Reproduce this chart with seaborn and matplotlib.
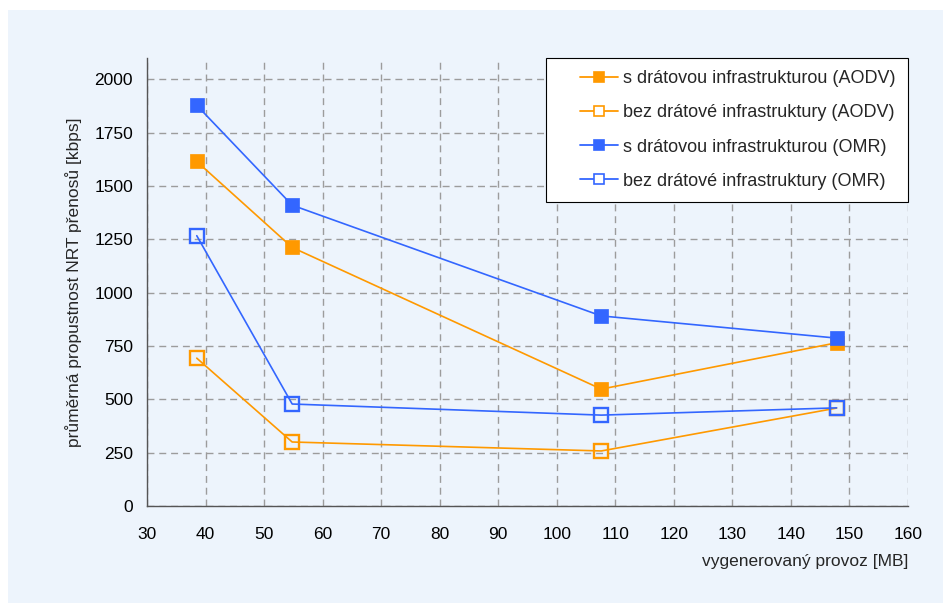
import matplotlib
matplotlib.use("Agg")
import matplotlib.pyplot as plt
import matplotlib.patches as mpatches
from matplotlib.legend_handler import HandlerLine2D
import numpy as np
import pandas as pd
import seaborn as sns

# Generated traffic [MB] at each measurement
traffic = [38.5, 54.8, 107.6, 147.8]

# Average NRT throughput [kbps]
aodv_wired = [1615, 1212, 548, 765]
aodv_nowire = [693, 300, 258, 459]
omr_wired = [1878, 1410, 891, 787]
omr_nowire = [1267, 478, 426, 460]

labels = [
    "s drátovou infrastrukturou (AODV)",
    "bez drátové infrastruktury (AODV)",
    "s drátovou infrastrukturou (OMR)",
    "bez drátové infrastruktury (OMR)",
]
series = [aodv_wired, aodv_nowire, omr_wired, omr_nowire]

xticks = list(range(30, 161, 10))
yticks = list(range(0, 2001, 250))

ORANGE = "#FF9900"
BLUE = "#3366FF"
BG = "#EDF4FC"

colors = [ORANGE, ORANGE, BLUE, BLUE]
filled = [True, False, True, False]


class InsetLineHandler(HandlerLine2D):
    """Legend key whose line starts part-way into the handle box."""

    def __init__(self, inset=0.4, **kw):
        super().__init__(**kw)
        self.inset = inset

    def create_artists(self, legend, orig_handle, xdescent, ydescent,
                       width, height, fontsize, trans):
        shift = width * self.inset
        return super().create_artists(legend, orig_handle, xdescent - shift,
                                      ydescent, width - shift, height,
                                      fontsize, trans)


sns.set_theme(style="white")
plt.rcParams["font.family"] = ["Liberation Sans", "DejaVu Sans"]

fig = plt.figure(figsize=(9.43, 6.03), dpi=100, facecolor="white")
fig.patches.append(mpatches.Rectangle((8 / 943, 0), 1, 1 - 10 / 603,
                                      transform=fig.transFigure,
                                      facecolor=BG, edgecolor="none", zorder=-5))
ax = fig.add_axes([147 / 943, (603 - 506) / 603, (908 - 147) / 943, (506 - 58) / 603])
ax.set_zorder(2)
ax.set_facecolor(BG)

frames = []
for lab, vals in zip(labels, series):
    frames.append(pd.DataFrame({"provoz": traffic, "propustnost": vals, "serie": lab}))
df = pd.concat(frames, ignore_index=True)

# draw so that the filled OMR marker sits on top at the last point
order = [1, 3, 0, 2]
for i in order:
    sub = df[df["serie"] == labels[i]]
    sns.lineplot(
        data=sub, x="provoz", y="propustnost", ax=ax,
        color=colors[i], linewidth=1.2, marker="s",
        markersize=10 if filled[i] else 9.5,
        markerfacecolor=colors[i] if filled[i] else "none",
        markeredgecolor=colors[i], markeredgewidth=0.5 if filled[i] else 1.7,
        label=labels[i], zorder=3 + i, legend=False,
    )

ax.set_xlim(30, 160)
ax.set_ylim(0, 2100)
ax.set_xticks(xticks)
ax.set_yticks(yticks)
ax.tick_params(axis="both", labelsize=12.5, colors="#000000", length=5,
               width=0.8, direction="out")
ax.tick_params(axis="x", pad=10)
ax.tick_params(axis="y", pad=5)
ax.tick_params(axis="both", color="#555555")

ax.grid(True, color="#9c9c9c", linestyle=(0, (5, 3.5)), linewidth=1.0)
ax.set_axisbelow(True)
for s in ["top", "right"]:
    ax.spines[s].set_visible(False)
for s in ["left", "bottom"]:
    ax.spines[s].set_color("#555555")
    ax.spines[s].set_linewidth(1.0)

ax.set_xlabel("vygenerovaný provoz [MB]", fontsize=12.5, loc="right", labelpad=9)
ax.set_ylabel("průměrná propustnost NRT přenosů [kbps]", fontsize=12.5, labelpad=9)

handles = []
for i in range(4):
    handles.append(plt.Line2D([], [], color=colors[i], linewidth=1.3, marker="s",
                              markersize=7.5,
                              markerfacecolor=colors[i] if filled[i] else "white",
                              markeredgecolor=colors[i], markeredgewidth=1.2))
leg = ax.legend(handles, labels, loc="upper right", bbox_to_anchor=(1.0, 1.0),
                fontsize=13, frameon=True, fancybox=False, framealpha=1,
                edgecolor="#000000", facecolor="white", handlelength=3.3,
                handletextpad=0.3, labelspacing=0.95, borderpad=0.68,
                borderaxespad=0.0,
                handler_map={plt.Line2D: InsetLineHandler(inset=0.36)})
leg.get_frame().set_linewidth(0.8)

fig.savefig("out.png", dpi=100, facecolor=fig.get_facecolor())
